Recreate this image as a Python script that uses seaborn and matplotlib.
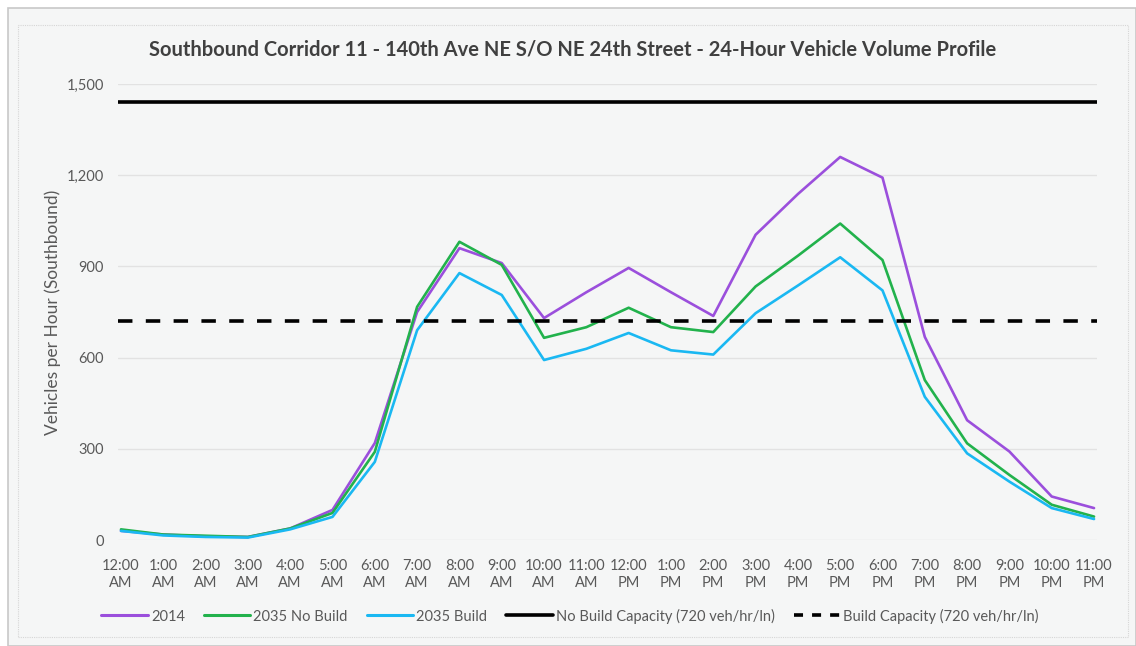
import numpy as np
import pandas as pd
import matplotlib
matplotlib.use("Agg")
import matplotlib.pyplot as plt
import seaborn as sns
from matplotlib.patches import Rectangle
from matplotlib.lines import Line2D

hours = ["12:00\nAM", "1:00\nAM", "2:00\nAM", "3:00\nAM", "4:00\nAM", "5:00\nAM",
         "6:00\nAM", "7:00\nAM", "8:00\nAM", "9:00\nAM", "10:00\nAM", "11:00\nAM",
         "12:00\nPM", "1:00\nPM", "2:00\nPM", "3:00\nPM", "4:00\nPM", "5:00\nPM",
         "6:00\nPM", "7:00\nPM", "8:00\nPM", "9:00\nPM", "10:00\nPM", "11:00\nPM"]

vol_2014 = [30, 18, 12, 10, 38, 99, 319, 750, 960, 911, 730, 815,
            895, 815, 737, 1004, 1138, 1260, 1192, 668, 394, 291, 143, 105]
vol_2035_no_build = [35, 18, 14, 10, 38, 89, 290, 767, 981, 905, 665, 700,
                     764, 700, 684, 834, 935, 1041, 921, 526, 318, 214, 116, 77]
vol_2035_build = [30, 15, 10, 8, 35, 76, 257, 690, 878, 806, 592, 629,
                  681, 624, 610, 746, 837, 930, 821, 471, 285, 192, 105, 69]

no_build_capacity = 1440
build_capacity = 720

series_names = ["2014", "2035 No Build", "2035 Build"]
series_colors = ["#9b4fdc", "#22b24c", "#1ab8f2"]

df = pd.DataFrame({
    "hour": list(range(len(hours))) * 3,
    "volume": vol_2014 + vol_2035_no_build + vol_2035_build,
    "series": sum([[n] * len(hours) for n in series_names], []),
})

sns.set_theme(style="white")
plt.rcParams["font.family"] = ["Lato", "DejaVu Sans"]
text_color = "#595959"
bg = "#f5f6f6"

fig = plt.figure(figsize=(11.36, 6.46), dpi=100)
fig.patch.set_facecolor("white")
W, H = 1136, 646

# panel background and frames
fig.patches.append(Rectangle((8 / W, 0), (W - 8) / W, (H - 8) / H, transform=fig.transFigure,
                             facecolor=bg, edgecolor="#c8c8c8", linewidth=1.2, zorder=-2))
fig.patches.append(Rectangle((18 / W, 1 - 637 / H), (1128 - 18) / W, (637 - 25) / H,
                             transform=fig.transFigure, facecolor="none",
                             edgecolor="#d6d6d6", linewidth=0.8, linestyle=(0, (1, 1)), zorder=-1))

ax = fig.add_axes([118 / W, 1 - 540 / H, (1097 - 118) / W, (540 - 84) / H])
ax.set_zorder(2)
ax.set_facecolor(bg)

sns.lineplot(data=df, x="hour", y="volume", hue="series", hue_order=series_names,
             palette=series_colors, linewidth=1.9, ax=ax, legend=False, zorder=3)

ax.axhline(no_build_capacity, color="black", linewidth=2.6, zorder=4)
ax.axhline(build_capacity, color="black", linewidth=2.6, dashes=(4, 3.7), zorder=4)

ax.set_xlim(-0.07, len(hours) - 1 + 0.07)
ax.set_ylim(0, 1500)
ax.set_yticks(np.arange(0, 1501, 300))
ax.set_yticklabels([f"{v:,}" for v in np.arange(0, 1501, 300)])
ax.set_xticks(range(len(hours)))
ax.set_xticklabels(hours)
ax.tick_params(axis="both", length=0, labelsize=10.5, colors=text_color)
ax.tick_params(axis="x", pad=14)
ax.tick_params(axis="y", pad=10)
ax.yaxis.grid(True, color="#e2e2e2", linewidth=1.0)
ax.xaxis.grid(False)
ax.set_axisbelow(True)
for s in ax.spines.values():
    s.set_visible(False)

ax.set_xlabel("")
ax.set_ylabel("Vehicles per Hour (Southbound)", fontsize=12.5, color=text_color, labelpad=4)

fig.text(573 / W, 1 - 50 / H,
         "Southbound Corridor 11 - 140th Ave NE S/O NE 24th Street - 24-Hour Vehicle Volume Profile",
         ha="center", va="center", fontsize=14.5, fontweight="bold", color="#404040")

handles = [Line2D([], [], color=c, linewidth=2.2) for c in series_colors]
handles.append(Line2D([], [], color="black", linewidth=2.6))
handles.append(Line2D([], [], color="black", linewidth=2.6, dashes=(2.5, 2.5)))
labels = series_names + ["No Build Capacity (720 veh/hr/ln)", "Build Capacity (720 veh/hr/ln)"]
fig.legend(handles, labels, loc="center", bbox_to_anchor=(570 / W, 1 - 616 / H), ncol=5,
           frameon=False, fontsize=10.5, labelcolor=text_color, handlelength=3.2,
           handletextpad=0.2, columnspacing=1.3)

fig.savefig("out.png", dpi=100, facecolor=fig.get_facecolor())
